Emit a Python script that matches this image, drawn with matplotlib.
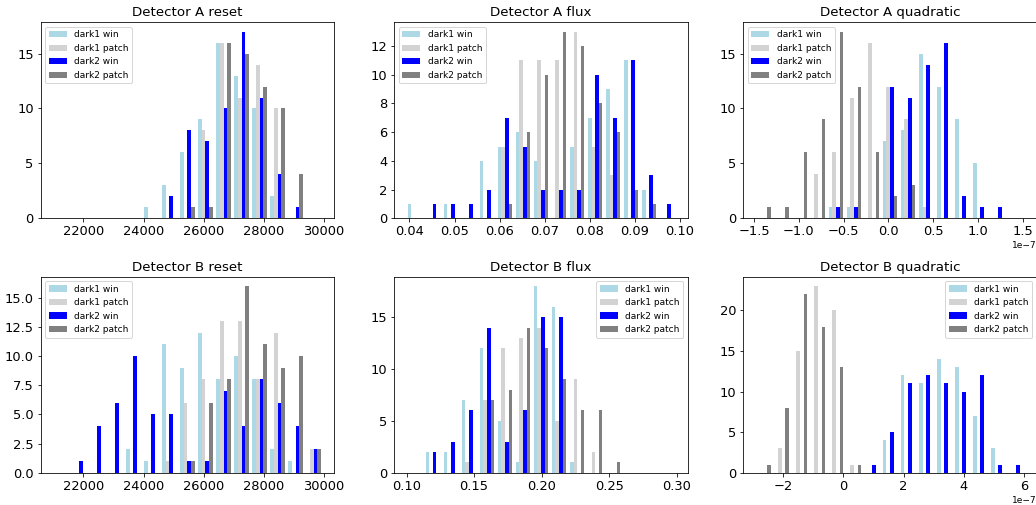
import numpy as np
import matplotlib
matplotlib.use("Agg")
import matplotlib.pyplot as plt

labels = ["dark1 win", "dark1 patch", "dark2 win", "dark2 patch"]
colors = ["lightblue", "lightgray", "blue", "gray"]

n_bins = 15

# histogram ranges (15 bins each)
reset_range = (20960, 29960)
flux_a_range = (0.0392, 0.0992)
quad_a_range = (-1.49e-7, 1.525e-7)
flux_b_range = (0.0995, 0.2995)
quad_b_range = (-2.95e-7, 6.05e-7)

# counts per bin: dark1 win, dark1 patch, dark2 win, dark2 patch
reset_a = [
    [0, 0, 0, 0, 0, 1, 3, 6, 9, 16, 13, 10, 2, 0, 0],
    [0, 0, 0, 0, 0, 0, 0, 0, 8, 16, 11, 14, 10, 0, 0],
    [0, 0, 0, 0, 0, 0, 2, 8, 7, 10, 17, 11, 4, 1, 0],
    [0, 0, 0, 0, 0, 0, 0, 1, 1, 16, 15, 12, 10, 4, 0],
]
flux_a = [
    [1, 0, 1, 0, 4, 5, 6, 4, 0, 5, 7, 9, 11, 2, 0],
    [0, 0, 0, 0, 0, 5, 11, 11, 11, 13, 5, 3, 0, 0, 0],
    [0, 1, 1, 1, 2, 7, 5, 2, 2, 2, 10, 7, 11, 3, 1],
    [0, 0, 0, 0, 0, 1, 6, 10, 13, 12, 8, 6, 2, 1, 0],
]
quad_a = [
    [0, 0, 0, 0, 1, 1, 0, 7, 8, 15, 12, 9, 5, 0, 0],
    [0, 0, 0, 4, 6, 11, 16, 12, 9, 1, 0, 0, 0, 0, 0],
    [0, 0, 0, 0, 1, 1, 0, 12, 11, 14, 16, 2, 1, 1, 0],
    [1, 1, 6, 9, 17, 12, 6, 2, 3, 0, 0, 0, 0, 0, 0],
]
reset_b = [
    [0, 0, 0, 0, 2, 1, 11, 9, 12, 8, 10, 8, 2, 1, 0],
    [0, 0, 0, 0, 0, 0, 1, 6, 8, 13, 13, 8, 12, 0, 2],
    [0, 1, 4, 6, 10, 5, 5, 1, 1, 7, 4, 8, 6, 4, 2],
    [0, 0, 0, 0, 0, 0, 0, 1, 6, 8, 16, 11, 9, 10, 2],
]
flux_b = [
    [0, 2, 2, 7, 12, 5, 1, 18, 16, 1, 0, 0, 0, 0, 0],
    [0, 0, 0, 1, 7, 12, 13, 14, 5, 9, 2, 0, 0, 0, 0],
    [0, 2, 3, 6, 14, 3, 6, 15, 15, 0, 0, 0, 0, 0, 0],
    [0, 0, 0, 0, 7, 8, 14, 12, 9, 6, 6, 1, 0, 0, 0],
]
quad_b = [
    [0, 0, 0, 0, 0, 0, 0, 4, 12, 11, 14, 13, 7, 3, 0],
    [0, 3, 15, 23, 20, 1, 0, 0, 0, 0, 0, 0, 0, 0, 0],
    [0, 0, 0, 0, 0, 0, 1, 5, 11, 12, 11, 10, 12, 1, 1],
    [1, 8, 22, 18, 13, 1, 0, 0, 0, 0, 0, 0, 0, 0, 0],
]

panels = [
    ("Detector A reset", reset_a, reset_range, "upper left"),
    ("Detector A flux", flux_a, flux_a_range, "upper left"),
    ("Detector A quadratic", quad_a, quad_a_range, "upper left"),
    ("Detector B reset", reset_b, reset_range, "upper left"),
    ("Detector B flux", flux_b, flux_b_range, "upper right"),
    ("Detector B quadratic", quad_b, quad_b_range, "upper right"),
]

W, H = 1036, 505
col_left = [40.7, 394.3, 743.3]   # px
row_top = [22.3, 276.7]           # px
ax_w, ax_h = 293.5, 196.0


def plot_panel(ax, title, counts, rng, loc):
    edges = np.linspace(rng[0], rng[1], n_bins + 1)
    centers = 0.5 * (edges[:-1] + edges[1:])
    ax.hist([centers] * len(counts), bins=edges,
            weights=[np.array(c, dtype=float) for c in counts],
            color=colors, label=labels)
    ax.set_title(title, fontsize=13.4)
    ax.tick_params(labelsize=13)
    ax.xaxis.get_offset_text().set_fontsize(9)
    ax.legend(loc=loc, fontsize=9)


def main():
    fig, axes = plt.subplots(2, 3, figsize=(W / 72, H / 72), dpi=72)
    for i, ax in enumerate(axes.flat):
        r, c = divmod(i, 3)
        ax.set_position([col_left[c] / W, 1 - (row_top[r] + ax_h) / H,
                         ax_w / W, ax_h / H])
    for ax, (title, counts, rng, loc) in zip(axes.flat, panels):
        plot_panel(ax, title, counts, rng, loc)
    fig.savefig("out.png", dpi=72)


if __name__ == "__main__":
    main()
